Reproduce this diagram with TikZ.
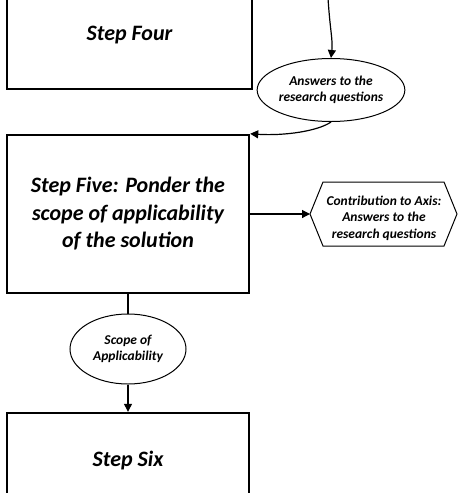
\documentclass[tikz,border=0pt]{standalone}
\usepackage{fontspec}
\setmainfont{Carlito}
\usetikzlibrary{arrows.meta,shapes.geometric}
\begin{document}
\begin{tikzpicture}[x=1pt,y=-1pt,
  stepbox/.style={draw,line width=2.4pt,align=center,inner sep=0pt,
    font=\fontsize{22}{27.5}\selectfont\bfseries\itshape},
  oval/.style={draw,ellipse,line width=1pt,align=center,inner sep=0pt,
    font=\fontsize{13.5}{16.5}\selectfont\bfseries\itshape},
  conn/.style={line width=1.2pt},
  arr/.style={conn,-{Triangle[length=8pt,width=8pt]}}]
\useasboundingbox (0,0) rectangle (458,493);
\clip (0,0) rectangle (458,493);

% process steps
\node[stepbox,minimum width=245pt,minimum height=119pt] (s4) at (129.5,29.5)
  {\raisebox{-6pt}[\height][\depth]{Step Four}};
\node[stepbox,minimum width=242pt,minimum height=158pt] (s5) at (128,214)
  {Step Five: Ponder the\\scope of applicability\\of the solution};
\node[stepbox,minimum width=242pt,minimum height=120pt] (s6) at (128,473)
  {\raisebox{12pt}[\height][\depth]{Step Six}};

% intermediate results
\node[oval,minimum width=116pt,minimum height=63pt] (ans) at (331,90)
  {Answers to the\\research questions};
\node[oval,minimum width=116pt,minimum height=70pt] (scope) at (128,349)
  {Scope of\\Applicability};

% contribution hexagon
\coordinate (hw) at (310,214);
\coordinate (hnw) at (323,182);
\coordinate (hne) at (444,182);
\coordinate (he) at (457,214);
\coordinate (hse) at (444,246);
\coordinate (hsw) at (323,246);
\draw[line width=1pt] (hw) -- (hnw) -- (hne) -- (he) -- (hse) -- (hsw) -- cycle;
\node[align=center,inner sep=0pt,font=\fontsize{13.5}{16.5}\selectfont\bfseries\itshape] (contrib) at (384,218)
  {Contribution to Axis:\\Answers to the\\research questions};

% connectors
\coordinate (incoming) at (328,-2);
\draw[arr] (incoming) .. controls (330,30) and (333,40) .. (ans.north);
\draw[arr] (ans.south) .. controls (318,131) and (285,136) .. (s5.north east);
\draw[arr] (s5.east) -- (hw);
\draw[conn] (s5.south) -- (scope.north);
\draw[arr] (scope.south) -- (s6.north);
\end{tikzpicture}
\end{document}
